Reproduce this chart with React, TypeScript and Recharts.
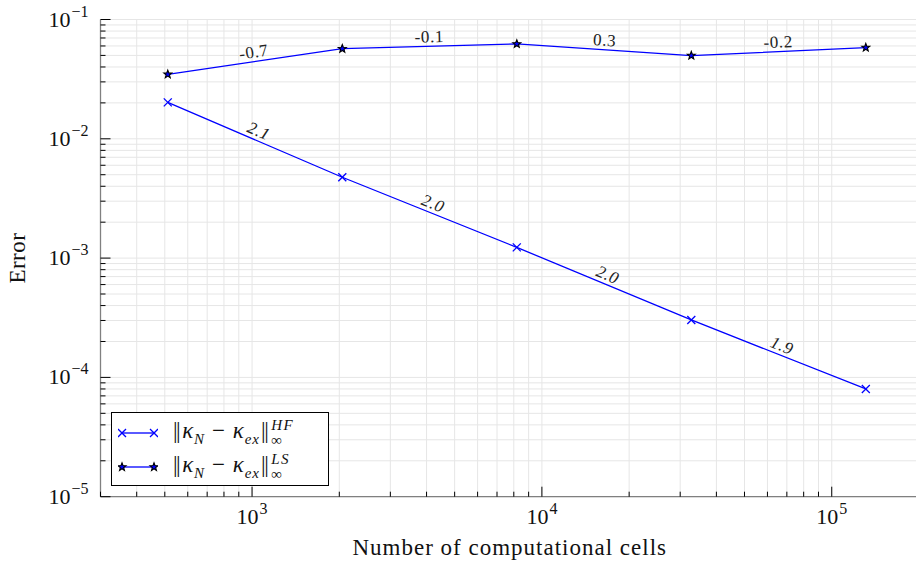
import React from 'react';
import { LineChart, Line, XAxis, YAxis, CartesianGrid, Legend } from 'recharts';

// number of cells and errors per refinement level
const cells = [512, 2048, 8192, 32768, 131072];
const errHF = [0.0202, 0.00476, 0.00123, 0.000303, 0.00008];
const errLS = [0.0347, 0.0569, 0.0624, 0.0498, 0.0581];
const ordersHF = ['2.1', '2.0', '2.0', '1.9'];
const ordersLS = ['-0.7', '-0.1', '0.3', '-0.2'];
const legendSup = ['HF', 'LS'];

const xMajor = [1e3, 1e4, 1e5];
const xTicks = [
  300, 400, 500, 600, 700, 800, 900, 1000,
  2000, 3000, 4000, 5000, 6000, 7000, 8000, 9000, 10000,
  20000, 30000, 40000, 50000, 60000, 70000, 80000, 90000, 100000,
  200000,
];
const yMajor = [1e-5, 1e-4, 1e-3, 1e-2, 1e-1];
const yTicks = [
  1e-5, 2e-5, 3e-5, 4e-5, 5e-5, 6e-5, 7e-5, 8e-5, 9e-5,
  1e-4, 2e-4, 3e-4, 4e-4, 5e-4, 6e-4, 7e-4, 8e-4, 9e-4,
  1e-3, 2e-3, 3e-3, 4e-3, 5e-3, 6e-3, 7e-3, 8e-3, 9e-3,
  1e-2, 2e-2, 3e-2, 4e-2, 5e-2, 6e-2, 7e-2, 8e-2, 9e-2,
  1e-1,
];
const xDomain = [300, 200000];
const yDomain = [1e-5, 1e-1];

const W = 925;
const H = 561;
const margin = { top: 19.5, right: 6, bottom: 0, left: 0 };
const yAxisW = 100.5;
const xAxisH = 64.3;
const plotW = W - margin.left - margin.right - yAxisW;
const plotH = H - margin.top - margin.bottom - xAxisH;

const FONT = '"Liberation Serif", "DejaVu Serif", serif';
const BLUE = '#0000ff';
const FRAME = '#808080';

const hfData = cells.map((x, i) => ({ x, y: errHF[i] }));
const lsData = cells.map((x, i) => ({ x, y: errLS[i] }));

const angleOf = (x1: number, y1: number, x2: number, y2: number) => {
  const pxX = plotW / Math.log10(xDomain[1] / xDomain[0]);
  const pxY = plotH / Math.log10(yDomain[1] / yDomain[0]);
  const dx = Math.log10(x2 / x1) * pxX;
  const dy = -Math.log10(y2 / y1) * pxY;
  return (Math.atan2(dy, dx) * 180) / Math.PI;
};

const mids = (errs: number[], labels: string[]) =>
  cells.slice(1).map((c, i) => ({
    x: Math.sqrt(c * cells[i]),
    y: Math.sqrt(errs[i] * errs[i + 1]),
    label: labels[i],
    angle: angleOf(cells[i], errs[i], c, errs[i + 1]),
  }));

const midHF = mids(errHF, ordersHF);
const midLS = mids(errLS, ordersLS);

const expOf = (v: number) => {
  const e = Math.round(Math.log10(v));
  return e < 0 ? '\u2212' + Math.abs(e) : String(e);
};

const BottomTick = (p: any) => {
  const { x, y, payload } = p;
  const major = xMajor.includes(payload.value);
  return (
    <g>
      <line x1={x} x2={x} y1={y} y2={y - (major ? 10 : 5)} stroke="#000" strokeWidth={1} />
      {major && (
        <text x={x} y={y + 27} textAnchor="middle" fontFamily={FONT} fontSize={22} fill="#111">
          <tspan>10</tspan>
          <tspan dx={1} dy={-10} fontSize={16}>{expOf(payload.value)}</tspan>
        </text>
      )}
    </g>
  );
};

const TopTick = (p: any) => {
  const { x, y, payload } = p;
  const major = xMajor.includes(payload.value);
  return <line x1={x} x2={x} y1={y} y2={y + (major ? 10 : 5)} stroke="#000" strokeWidth={1} />;
};

const LeftTick = (p: any) => {
  const { x, y, payload } = p;
  const major = yMajor.includes(payload.value);
  return (
    <g>
      <line x1={x} x2={x + (major ? 10 : 5)} y1={y} y2={y} stroke="#000" strokeWidth={1} />
      {major && (
        <text x={x - 12} y={y + 7} textAnchor="end" fontFamily={FONT} fontSize={22} fill="#111">
          <tspan>10</tspan>
          <tspan dx={1} dy={-10} fontSize={16}>{expOf(payload.value)}</tspan>
        </text>
      )}
    </g>
  );
};

const RightTick = (p: any) => {
  const { x, y, payload } = p;
  const major = yMajor.includes(payload.value);
  return <line x1={x} x2={x - (major ? 10 : 5)} y1={y} y2={y} stroke="#000" strokeWidth={1} />;
};

const Cross = ({ cx, cy, s = 4 }: any) => (
  <g stroke={BLUE} strokeWidth={1.3}>
    <line x1={cx - s} y1={cy - s} x2={cx + s} y2={cy + s} />
    <line x1={cx - s} y1={cy + s} x2={cx + s} y2={cy - s} />
  </g>
);

const starPoints = (cx: number, cy: number, r: number) => {
  const pts: string[] = [];
  for (let k = 0; k < 10; k++) {
    const rr = k % 2 === 0 ? r : r * 0.42;
    const a = -Math.PI / 2 + (k * Math.PI) / 5;
    pts.push(`${cx + rr * Math.cos(a)},${cy + rr * Math.sin(a)}`);
  }
  return pts.join(' ');
};

const Star = ({ cx, cy }: any) => (
  <polygon points={starPoints(cx, cy, 4.2)} fill={BLUE} stroke="#000" strokeWidth={1.1} strokeLinejoin="miter" />
);

const slopeDot = (italic: boolean, size: number, off: number) => (p: any) => {
  const { cx, cy, payload, index } = p;
  return (
    <text
      key={index}
      transform={`translate(${cx},${cy}) rotate(${payload.angle})`}
      y={-off}
      textAnchor="middle"
      fontFamily={FONT}
      fontStyle={italic ? 'italic' : 'normal'}
      fontSize={size}
      letterSpacing={0.6}
      fill="#222"
    >
      {payload.label}
    </text>
  );
};

const sub = { fontSize: 15, verticalAlign: '-0.35em', letterSpacing: 1 };

const NormText = ({ sup }: { sup: string }) => (
  <span style={{ fontFamily: FONT, fontSize: 23, color: '#111', whiteSpace: 'nowrap', letterSpacing: 0.8 }}>
    <span style={{ letterSpacing: -1.5 }}>||</span>
    <i style={{ marginLeft: 3 }}>κ</i>
    <span style={sub}><i>N</i></span>
    <span style={{ margin: '0 7px' }}>{'\u2212'}</span>
    <i>κ</i>
    <span style={sub}><i>ex</i></span>
    <span style={{ letterSpacing: -1.5, marginLeft: 1 }}>||</span>
    <span
      style={{
        display: 'inline-flex',
        flexDirection: 'column',
        verticalAlign: 'middle',
        fontSize: 15,
        lineHeight: '15px',
        marginLeft: 4,
        letterSpacing: 1.5,
      }}
    >
      <i>{sup}</i>
      <span>∞</span>
    </span>
  </span>
);

const renderLegend = () => (
  <div
    style={{
      width: 218,
      height: 74,
      boxSizing: 'border-box',
      border: '1.2px solid #000',
      background: '#fff',
      paddingTop: 3,
    }}
  >
    {legendSup.map((sup, i) => (
      <div key={sup} style={{ display: 'flex', alignItems: 'center', height: 34 }}>
        <svg width={40} height={14} style={{ marginLeft: 6, marginRight: 15 }}>
          <line x1={4} x2={36} y1={7} y2={7} stroke={BLUE} strokeWidth={1.3} />
          {i === 0 ? (
            <>
              <Cross cx={4} cy={7} />
              <Cross cx={36} cy={7} />
            </>
          ) : (
            <>
              <Star cx={4} cy={7} />
              <Star cx={36} cy={7} />
            </>
          )}
        </svg>
        <NormText sup={sup} />
      </div>
    ))}
  </div>
);

export default function App() {
  return (
    <div style={{ position: 'absolute', left: 0, top: 0, width: 916, height: 561, overflow: 'hidden', background: '#fff' }}>
      <LineChart width={W} height={H} margin={margin} style={{ fontFamily: FONT }}>
        <CartesianGrid xAxisId="bottom" yAxisId="left" stroke="#e6e6e6" strokeWidth={1} />
        <XAxis
          xAxisId="bottom"
          dataKey="x"
          type="number"
          scale="log"
          domain={xDomain}
          allowDataOverflow
          ticks={xTicks}
          interval={0}
          tick={<BottomTick />}
          tickLine={false}
          tickSize={0}
          tickMargin={0}
          height={xAxisH}
          axisLine={{ stroke: FRAME, strokeWidth: 1.3 }}
          label={{
            content: (p: any) => {
              const vb = p.viewBox;
              return (
                <text x={vb.x + vb.width / 2} y={vb.y + 58} textAnchor="middle" fontFamily={FONT} fontSize={23} letterSpacing={1} fill="#111">
                  Number of computational cells
                </text>
              );
            },
          }}
        />
        <XAxis
          xAxisId="top"
          orientation="top"
          dataKey="x"
          type="number"
          scale="log"
          domain={xDomain}
          allowDataOverflow
          ticks={xTicks}
          interval={0}
          tick={<TopTick />}
          tickLine={false}
          tickSize={0}
          tickMargin={0}
          height={0}
          axisLine={{ stroke: FRAME, strokeWidth: 1.3 }}
        />
        <YAxis
          yAxisId="left"
          type="number"
          scale="log"
          domain={yDomain}
          allowDataOverflow
          ticks={yTicks}
          interval={0}
          tick={<LeftTick />}
          tickLine={false}
          tickSize={0}
          tickMargin={0}
          width={yAxisW}
          axisLine={{ stroke: FRAME, strokeWidth: 1.3 }}
          label={{
            content: (p: any) => {
              const vb = p.viewBox;
              const cx = vb.x + 18;
              const cy = vb.y + vb.height / 2;
              return (
                <text x={cx} y={cy} transform={`rotate(-90 ${cx} ${cy})`} textAnchor="middle" dominantBaseline="central" fontFamily={FONT} fontSize={23} letterSpacing={0.5} fill="#111">
                  Error
                </text>
              );
            },
          }}
        />
        <YAxis
          yAxisId="right"
          orientation="right"
          type="number"
          scale="log"
          domain={yDomain}
          allowDataOverflow
          ticks={yTicks}
          interval={0}
          tick={<RightTick />}
          tickLine={false}
          tickSize={0}
          tickMargin={0}
          width={0}
          axisLine={{ stroke: FRAME, strokeWidth: 1.3 }}
        />
        <Line
          xAxisId="bottom"
          yAxisId="left"
          data={hfData}
          dataKey="y"
          stroke={BLUE}
          strokeWidth={1.3}
          dot={(p: any) => <Cross key={p.index} cx={p.cx} cy={p.cy} />}
          activeDot={false}
          isAnimationActive={false}
        />
        <Line
          xAxisId="bottom"
          yAxisId="left"
          data={lsData}
          dataKey="y"
          stroke={BLUE}
          strokeWidth={1.3}
          dot={(p: any) => <Star key={p.index} cx={p.cx} cy={p.cy} />}
          activeDot={false}
          isAnimationActive={false}
        />
        <Line
          xAxisId="bottom"
          yAxisId="left"
          data={midHF}
          dataKey="y"
          stroke="none"
          dot={slopeDot(true, 17, 4)}
          activeDot={false}
          legendType="none"
          isAnimationActive={false}
        />
        <Line
          xAxisId="bottom"
          yAxisId="left"
          data={midLS}
          dataKey="y"
          stroke="none"
          dot={slopeDot(false, 17, 4)}
          activeDot={false}
          legendType="none"
          isAnimationActive={false}
        />
        <Legend
          layout="vertical"
          align="center"
          verticalAlign="middle"
          content={renderLegend}
          wrapperStyle={{ left: 111, top: 412, width: 218, height: 74 }}
        />
      </LineChart>
    </div>
  );
}
